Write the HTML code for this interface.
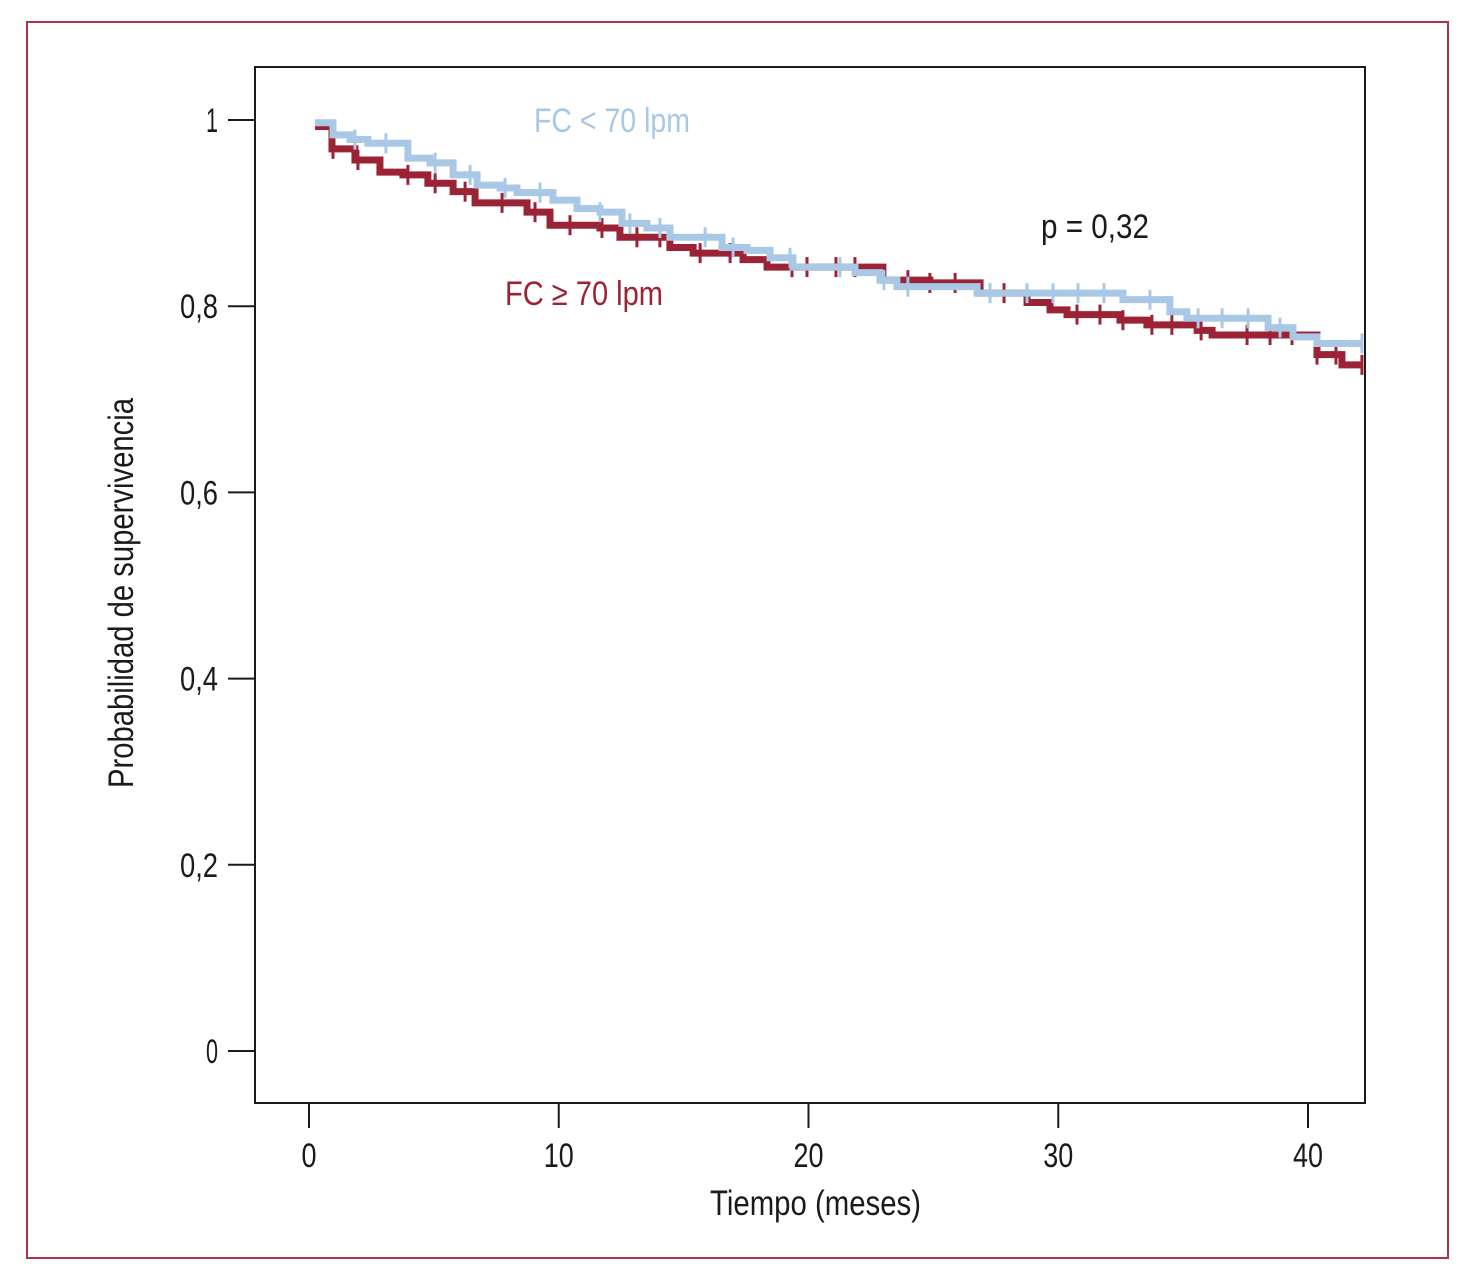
<!DOCTYPE html>
<html><head><meta charset="utf-8"><style>
body{margin:0;background:#fff;}
svg{display:block;}
text{font-family:"Liberation Sans Narrow","Liberation Sans",sans-serif;}
</style></head><body>
<svg id="chart" width="1470" height="1283" viewBox="0 0 1470 1283">
<rect x="27" y="22" width="1421" height="1236" fill="none" stroke="#a8334a" stroke-width="2"/>
<rect x="255" y="67" width="1110" height="1036" fill="none" stroke="#1a1a1a" stroke-width="2"/>
<g id="axes"></g>
<g id="series"></g>
<text x="534" y="132" font-size="34" textLength="156" lengthAdjust="spacingAndGlyphs" fill="#a8c8e6">FC &lt; 70 lpm</text>
<text x="505" y="305" font-size="34" textLength="158" lengthAdjust="spacingAndGlyphs" fill="#9b2335">FC ≥ 70 lpm</text>
<text x="1041" y="238" font-size="34" textLength="108" lengthAdjust="spacingAndGlyphs" fill="#1a1a1a">p = 0,32</text>
<text x="710" y="1215" font-size="35" textLength="211" lengthAdjust="spacingAndGlyphs" fill="#1a1a1a">Tiempo (meses)</text>
<text x="0" y="0" font-size="35" textLength="390" lengthAdjust="spacingAndGlyphs" fill="#1a1a1a" transform="translate(133,788) rotate(-90)">Probabilidad de supervivencia</text>
</svg>
<script>
const xTicks=[0,10,20,30,40];
const yTicks=[0,0.2,0.4,0.6,0.8,1];
const yTickLabels=["0","0,2","0,4","0,6","0,8","1"];
const blueTimes=[0.24,0.96,1.64,2.36,3.96,4.84,5.77,6.73,7.65,8.33,9.77,10.73,11.65,12.53,13.53,14.45,16.54,17.54,18.46,19.38,21.86,22.86,23.54,26.75,32.59,34.47,35.15,38.40,39.40,40.36];
const blueSurv=[0.997,0.984,0.979,0.975,0.959,0.954,0.941,0.930,0.927,0.922,0.914,0.905,0.901,0.889,0.884,0.874,0.863,0.860,0.852,0.842,0.836,0.828,0.821,0.814,0.807,0.794,0.787,0.777,0.767,0.760];
const blueCensor=[1.84,3.08,5.05,6.45,7.85,9.25,11.65,12.85,14.05,15.86,16.98,19.26,21.26,23.02,23.98,27.27,28.75,29.79,30.79,31.83,33.67,35.6,36.56,37.6,38.88,42.16];
const redTimes=[0.24,0.92,1.84,2.84,3.76,4.76,5.77,6.65,8.73,9.65,11.65,12.45,14.45,15.38,17.38,18.34,22.98,24.86,26.87,28.75,29.67,30.35,32.47,33.55,35.56,36.16,40.36,41.36];
const redSurv=[0.993,0.969,0.957,0.944,0.941,0.932,0.923,0.911,0.901,0.887,0.884,0.874,0.863,0.857,0.850,0.842,0.828,0.825,0.814,0.804,0.796,0.791,0.785,0.780,0.774,0.769,0.748,0.737];
const redCensor=[0.96,1.96,3.96,5.05,6.25,7.73,9.05,10.45,11.73,13.13,14.05,15.66,16.86,19.34,19.94,21.1,21.86,23.98,24.86,25.87,27.83,30.75,31.67,32.59,33.75,34.55,35.72,37.56,38.48,39.36,40.36,41.12,42.16];
const tEnd=42.2;

const NS="http://www.w3.org/2000/svg";
function X(t){return 309+t*24.975;}
function Y(s){return 1051-s*931;}
function mk(tag,attrs,parent){const e=document.createElementNS(NS,tag);for(const k in attrs)e.setAttribute(k,attrs[k]);parent.appendChild(e);return e;}
const axes=document.getElementById('axes');
xTicks.forEach(t=>{
  const l=mk('line',{x1:X(t),x2:X(t),y1:1103,y2:1128,stroke:'#1a1a1a','stroke-width':2},axes);
  
  
  const lab=String(t);
  const tx=mk('text',{x:X(t),y:1167,'font-size':34,'text-anchor':'middle',fill:'#1a1a1a',textLength:lab.length*15,lengthAdjust:'spacingAndGlyphs'},axes);
  tx.textContent=lab;
  
  
});
yTicks.forEach((v,i)=>{
  const l=mk('line',{x1:228,x2:255,y1:Y(v),y2:Y(v),stroke:'#1a1a1a','stroke-width':2},axes);
  
  
  const lab=yTickLabels[i];
  const tx=mk('text',{x:218,y:Y(v)+12,'font-size':34,'text-anchor':'end',fill:'#1a1a1a',textLength:lab.length>1?38:12,lengthAdjust:'spacingAndGlyphs'},axes);
  tx.textContent=lab;
  
  
});
function survAt(times,surv,t){let s=surv[0];for(let i=0;i<times.length;i++){if(times[i]<=t)s=surv[i];}return s;}
function drawSeries(times,surv,censor,color,name){
  const g=mk('g',{},document.getElementById('series'));
  
  
  let d='M'+X(times[0])+','+Y(surv[0]);
  for(let i=1;i<times.length;i++){d+=' H'+X(times[i])+' V'+Y(surv[i]);}
  d+=' H'+X(tEnd);
  const p=mk('path',{d:d,fill:'none',stroke:color,'stroke-width':7,'stroke-linejoin':'miter'},g);
  
  
  censor.forEach(t=>{
    const y=Y(survAt(times,surv,t));
    const c=mk('line',{x1:X(t),x2:X(t),y1:y-10,y2:y+10,stroke:color,'stroke-width':3},g);
    
    
  });
}
drawSeries(redTimes,redSurv,redCensor,'#9b2335','series-fc-over-70');
drawSeries(blueTimes,blueSurv,blueCensor,'#a8c8e6','series-fc-under-70');
</script>
</body></html>
